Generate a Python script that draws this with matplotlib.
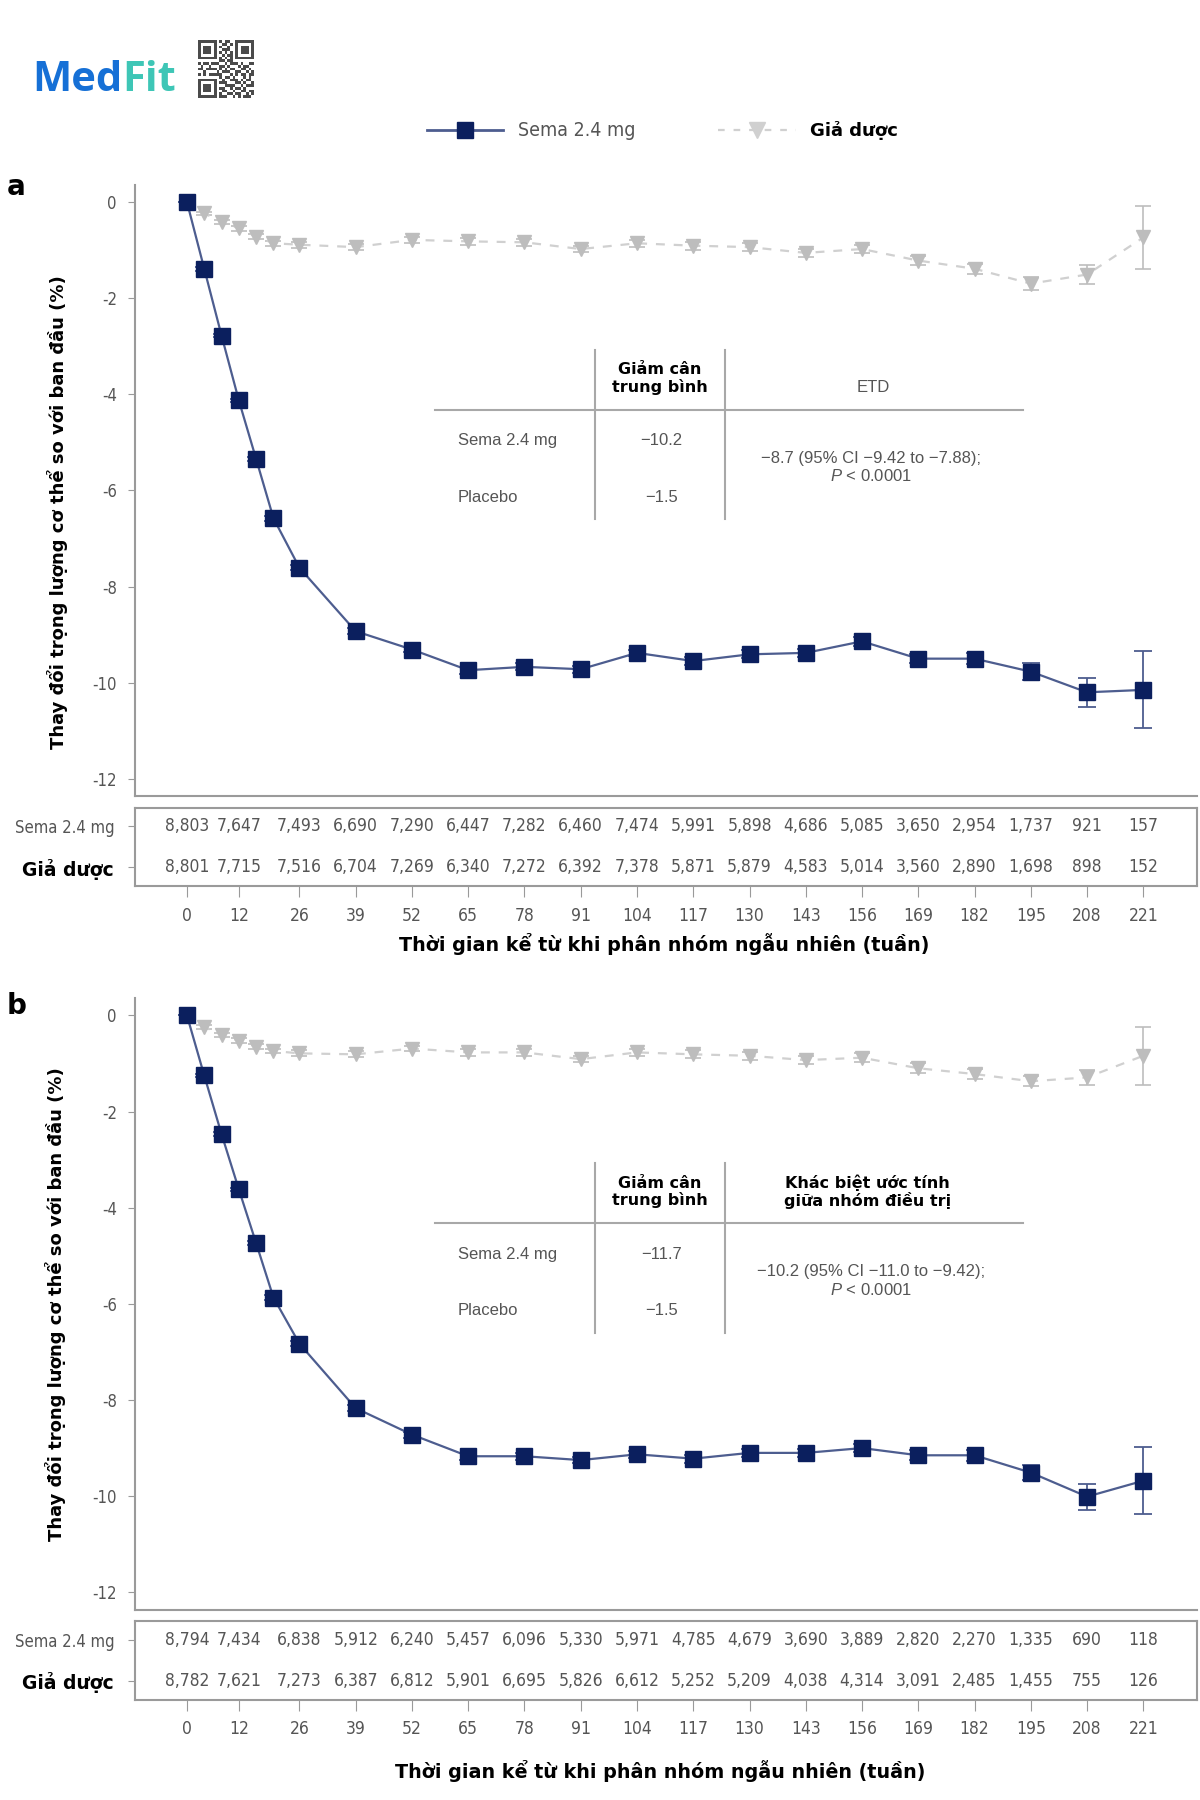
import numpy as np
import matplotlib
matplotlib.use("Agg")
import matplotlib.pyplot as plt
from matplotlib.lines import Line2D

# x positions (weeks) of the visits
weeks = [0, 4, 8, 12, 16, 20, 26, 39, 52, 65, 78, 91, 104, 117, 130, 143, 156, 169, 182, 195, 208, 221]
tick_weeks = [0, 12, 26, 39, 52, 65, 78, 91, 104, 117, 130, 143, 156, 169, 182, 195, 208, 221]

# panel a - body weight change (%)
sema_a = [0, -1.39, -2.78, -4.13, -5.35, -6.58, -7.61, -8.93, -9.31, -9.74, -9.67, -9.72,
          -9.38, -9.55, -9.41, -9.38, -9.14, -9.50, -9.50, -9.77, -10.2, -10.15]
sema_a_err = [0, 0.04, 0.04, 0.04, 0.04, 0.05, 0.05, 0.06, 0.06, 0.07, 0.07, 0.07,
              0.07, 0.08, 0.08, 0.09, 0.09, 0.1, 0.11, 0.18, 0.3, 0.8]
plac_a = [0, -0.24, -0.41, -0.55, -0.72, -0.86, -0.89, -0.94, -0.79, -0.82, -0.84, -0.98,
          -0.86, -0.91, -0.94, -1.06, -0.98, -1.22, -1.39, -1.70, -1.51, -0.74]
plac_a_err = [0, 0.04, 0.04, 0.05, 0.05, 0.05, 0.06, 0.06, 0.06, 0.07, 0.07, 0.07,
              0.07, 0.08, 0.08, 0.08, 0.09, 0.1, 0.1, 0.13, 0.2, 0.65]

# panel b - lean/body weight change (%)
sema_b = [0, -1.25, -2.47, -3.62, -4.74, -5.87, -6.83, -8.17, -8.72, -9.17, -9.17, -9.25,
          -9.13, -9.22, -9.10, -9.10, -9.00, -9.15, -9.15, -9.51, -10.01, -9.68]
sema_b_err = [0, 0.04, 0.04, 0.04, 0.04, 0.05, 0.05, 0.06, 0.06, 0.07, 0.07, 0.07,
              0.07, 0.08, 0.08, 0.09, 0.09, 0.1, 0.11, 0.15, 0.27, 0.7]
plac_b = [0, -0.24, -0.40, -0.53, -0.65, -0.74, -0.79, -0.81, -0.69, -0.77, -0.77, -0.91,
          -0.77, -0.81, -0.84, -0.93, -0.88, -1.10, -1.22, -1.37, -1.29, -0.84]
plac_b_err = [0, 0.04, 0.04, 0.05, 0.05, 0.05, 0.06, 0.06, 0.06, 0.07, 0.07, 0.07,
              0.07, 0.08, 0.08, 0.08, 0.09, 0.1, 0.1, 0.1, 0.15, 0.6]

# number at risk
risk_sema_a = ["8,803", "7,647", "7,493", "6,690", "7,290", "6,447", "7,282", "6,460", "7,474",
               "5,991", "5,898", "4,686", "5,085", "3,650", "2,954", "1,737", "921", "157"]
risk_plac_a = ["8,801", "7,715", "7,516", "6,704", "7,269", "6,340", "7,272", "6,392", "7,378",
               "5,871", "5,879", "4,583", "5,014", "3,560", "2,890", "1,698", "898", "152"]
risk_sema_b = ["8,794", "7,434", "6,838", "5,912", "6,240", "5,457", "6,096", "5,330", "5,971",
               "4,785", "4,679", "3,690", "3,889", "2,820", "2,270", "1,335", "690", "118"]
risk_plac_b = ["8,782", "7,621", "7,273", "6,387", "6,812", "5,901", "6,695", "5,826", "6,612",
               "5,252", "5,209", "4,038", "4,314", "3,091", "2,485", "1,455", "755", "126"]

# inset tables
mean_a = ["\u221210.2", "\u22121.5"]
etd_a = "\u22128.7 (95% CI \u22129.42 to \u22127.88);\n$P$ < 0.0001"
mean_b = ["\u221211.7", "\u22121.5"]
etd_b = "\u221210.2 (95% CI \u221211.0 to \u22129.42);\n$P$ < 0.0001"

NAVY = "#0b1f5e"
NAVY_LINE = "#4d5d8f"
GREY_M = "#bdbdbd"
GREY_L = "#d0d0d0"
TXT = "#555555"
SPINE = "#9a9a9a"
NARROW = ["DejaVu Sans"]
BOLD = ["DejaVu Sans"]

plt.rcParams['font.family'] = ["Liberation Sans", "DejaVu Sans"]
plt.rcParams['mathtext.fontset'] = 'custom'
plt.rcParams['mathtext.it'] = 'Liberation Sans:italic'

fig = plt.figure(figsize=(12, 18), dpi=100)

W, H = 1040.0, 1560.0


def fx(px):
    return px / W


def fy(py):
    return 1 - py / H


def draw_panel(top, bot, tab_top, tab_bot, sema, sema_err, plac, plac_err,
               risk_s, risk_p, means, etd, etd_head, head_bold):
    ax = fig.add_axes([fx(117), fy(bot), fx(1037) - fx(117), fy(top) - fy(bot)])
    ax.set_xlim(-12.0, 233.3)
    ax.set_ylim(-12.36, 0.36)
    # placebo
    ax.errorbar(weeks, plac, yerr=plac_err, color=GREY_L, ecolor=GREY_M, elinewidth=1.2,
                capsize=6, capthick=1.2, linestyle=(0, (4, 4)), linewidth=1.6, marker='v',
                markersize=10.5, markerfacecolor=GREY_M, markeredgecolor=GREY_M, zorder=2)
    # sema
    ax.errorbar(weeks, sema, yerr=sema_err, color=NAVY_LINE, ecolor=NAVY_LINE, elinewidth=1.3,
                capsize=6.5, capthick=1.3, linewidth=1.6, marker='s', markersize=11,
                markerfacecolor=NAVY, markeredgecolor=NAVY, zorder=3)
    for s in ['top', 'right']:
        ax.spines[s].set_visible(False)
    for s in ['left', 'bottom']:
        ax.spines[s].set_color(SPINE)
        ax.spines[s].set_linewidth(1.5)
    ax.set_yticks([0, -2, -4, -6, -8, -10, -12])
    ax.set_yticklabels(["0", "-2", "-4", "-6", "-8", "-10", "-12"], family=NARROW,
                       stretch='condensed', fontsize=12, color=TXT)
    ax.tick_params(axis='y', length=5, color=SPINE, pad=8)
    ax.set_xticks([])

    # inset table (axes fraction coordinates)
    def ay(py):
        return (bot - py) / (bot - top)

    def axx(px):
        return (px - 117) / 920.0

    tr = ax.transAxes
    ax.plot([axx(377), axx(887)], [ay(top + 195), ay(top + 195)], color="#a8a8a8", lw=1.5, transform=tr)
    for vx in [516, 628]:
        ax.plot([axx(vx), axx(vx)], [ay(top + 143), ay(top + 290)], color="#a8a8a8", lw=1.5, transform=tr)
    ax.text(axx(572), ay(top + 168), "Giảm cân\ntrung bình", transform=tr, ha='center', va='center',
            family=BOLD, fontweight='bold', fontsize=11.5, color='black', linespacing=1.1)
    if head_bold:
        ax.text(axx(752), ay(top + 168), etd_head, transform=tr, ha='center', va='center',
                family=BOLD, fontweight='bold', fontsize=11.5, color='black', linespacing=1.1)
    else:
        ax.text(axx(757), ay(top + 176), etd_head, transform=tr, ha='center', va='center',
                fontsize=12, color=TXT)
    ax.text(axx(397), ay(top + 222), "Sema 2.4 mg", transform=tr, ha='left', va='center',
            fontsize=12, color=TXT)
    ax.text(axx(397), ay(top + 271), "Placebo", transform=tr, ha='left', va='center',
            fontsize=12, color=TXT)
    ax.text(axx(573), ay(top + 222), means[0], transform=tr, ha='center', va='center',
            fontsize=12, color=TXT)
    ax.text(axx(573), ay(top + 271), means[1], transform=tr, ha='center', va='center',
            fontsize=12, color=TXT)
    ax.text(axx(755), ay(top + 245), etd, transform=tr, ha='center', va='center',
            fontsize=12, color=TXT, linespacing=1.2)

    # number at risk table
    tb = fig.add_axes([fx(117), fy(tab_bot), fx(1037) - fx(117), fy(tab_top) - fy(tab_bot)])
    tb.set_xlim(-12.0, 233.3)
    tb.set_ylim(0, 1)
    for s in tb.spines.values():
        s.set_color(SPINE)
        s.set_linewidth(1.5)
    for x, a, b in zip(tick_weeks, risk_s, risk_p):
        tb.text(x, 0.765, a, ha='center', va='center', family=NARROW, stretch='condensed',
                fontsize=12.5, color=TXT)
        tb.text(x, 0.24, b, ha='center', va='center', family=NARROW, stretch='condensed',
                fontsize=12.5, color=TXT)
    tb.set_yticks([0.765, 0.24])
    tb.set_yticklabels(["Sema 2.4 mg", "Giả dược"])
    labs = tb.get_yticklabels()
    labs[0].set_family(NARROW)
    labs[0].set_stretch('condensed')
    labs[0].set_fontsize(12)
    labs[0].set_color(TXT)
    labs[1].set_family(BOLD)
    labs[1].set_fontweight('bold')
    labs[1].set_fontsize(13.5)
    labs[1].set_color('black')
    tb.tick_params(axis='y', length=5, color=SPINE, pad=10)
    tb.set_xticks(tick_weeks)
    tb.set_xticklabels([str(t) for t in tick_weeks], family=NARROW, stretch='condensed',
                       fontsize=12.5, color=TXT)
    tb.tick_params(axis='x', length=8, color=SPINE, pad=7, direction='out')
    return ax, tb


draw_panel(160, 690, 700, 768, sema_a, sema_a_err, plac_a, plac_a_err,
           risk_sema_a, risk_plac_a, mean_a, etd_a, "ETD", False)
draw_panel(865, 1395, 1405, 1473, sema_b, sema_b_err, plac_b, plac_b_err,
           risk_sema_b, risk_plac_b, mean_b, etd_b, "Khác biệt ước tính\ngiữa nhóm điều trị", True)

ylab = "Thay đổi trọng lượng cơ thể so với ban đầu (%)"
xlab = "Thời gian kể từ khi phân nhóm ngẫu nhiên (tuần)"
fig.text(fx(50), fy(444), ylab, rotation=90, ha='center', va='center', family=BOLD,
         fontweight='bold', fontsize=13)
fig.text(fx(48), fy(1130), ylab, rotation=90, ha='center', va='center', family=BOLD,
         fontweight='bold', fontsize=13)
fig.text(fx(576), fy(818), xlab, ha='center', va='center', family=BOLD, fontweight='bold', fontsize=13.8)
fig.text(fx(572), fy(1535), xlab, ha='center', va='center', family=BOLD, fontweight='bold', fontsize=13.8)

fig.text(fx(6), fy(162), "a", ha='left', va='center', fontweight='bold', fontsize=20, family=BOLD)
fig.text(fx(6), fy(872), "b", ha='left', va='center', fontweight='bold', fontsize=20, family=BOLD)

# legend on top
fig.add_artist(Line2D([fx(370), fx(436)], [fy(113), fy(113)], color=NAVY_LINE, lw=2))
fig.add_artist(Line2D([fx(403)], [fy(113)], marker='s', markersize=11, color=NAVY, linestyle='none'))
fig.text(fx(449), fy(113), "Sema 2.4 mg", ha='left', va='center', fontsize=14, color=TXT,
         family=NARROW, stretch='condensed')
fig.add_artist(Line2D([fx(622), fx(690)], [fy(113), fy(113)], color=GREY_L, lw=1.6, linestyle=(0, (3, 4))))
fig.add_artist(Line2D([fx(656)], [fy(113)], marker='v', markersize=11, color=GREY_L, linestyle='none'))
fig.text(fx(702), fy(113), "Giả dược", ha='left', va='center', fontsize=13, fontweight='bold',
         color='black', family=BOLD)

# logo
fig.text(fx(28), fy(70), "Med", ha='left', va='center', fontsize=30, fontweight='bold',
         color="#1670d6", family=["Open Sans", "DejaVu Sans"])
fig.text(fx(106), fy(70), "Fit", ha='left', va='center', fontsize=30, fontweight='bold',
         color="#3ec6b6", family=["Open Sans", "DejaVu Sans"])
qr_rows = [
    "111111101011001111111",
    "100000100110101000001",
    "101110101001001011101",
    "101110100111001011101",
    "101110101010101011101",
    "100000100101101000001",
    "111111101010101111111",
    "000000001101100000000",
    "101101110010111010011",
    "010010001101000101100",
    "110111101010110011010",
    "001000010111001100101",
    "101011111000101011011",
    "000000001011010001010",
    "111111100100111010110",
    "100000101110001101001",
    "101110100011110010111",
    "101110101100101101000",
    "101110100110010011011",
    "100000101001101100101",
    "111111101110010101110",
]
qr = np.array([[int(c) for c in r[:21].ljust(21, '0')] for r in qr_rows])
qax = fig.add_axes([fx(172), fy(85), fx(220) - fx(172), fy(35) - fy(85)])
qax.imshow(qr, cmap='Greys', interpolation='nearest', aspect='auto', vmin=0, vmax=1.3)
qax.axis('off')

fig.savefig("out.png", dpi=100, facecolor='white')
